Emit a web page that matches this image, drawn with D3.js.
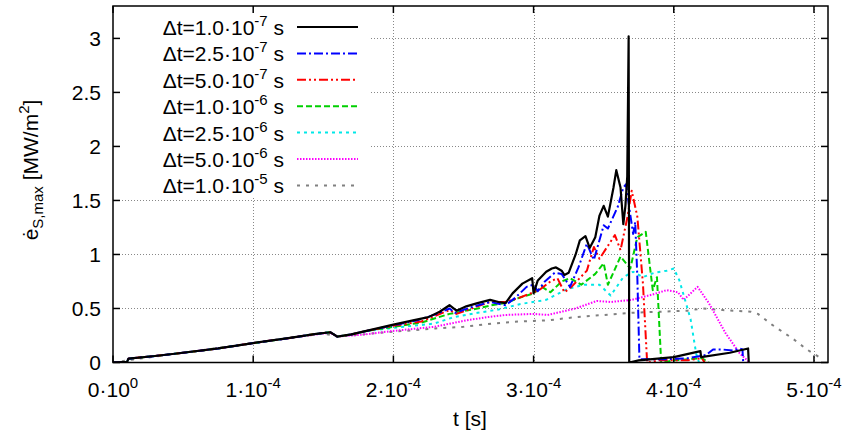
<!DOCTYPE html>
<html>
<head>
<meta charset="utf-8">
<script src="https://cdn.jsdelivr.net/npm/d3@7"></script>
<style>
  body { margin: 0; background: #fff; }
  svg { display: block; font-family: "Liberation Sans", Arial, sans-serif; }
</style>
</head>
<body>
<div id="chart"></div>
<script>
// time in units of 1e-4 s, heat flux in MW/m^2
const commonRise = [[0, 0], [0.1, 0.005], [0.11, 0.035], [0.3, 0.06], [0.5, 0.09], [0.75, 0.13], [1.0, 0.18],
  [1.25, 0.225], [1.45, 0.265], [1.55, 0.28], [1.6, 0.24], [1.7, 0.26], [1.8, 0.29]];

const dt1e7 = [[2.0, 0.35], [2.14, 0.39], [2.25, 0.42], [2.33, 0.47], [2.40, 0.53], [2.45, 0.48], [2.52, 0.52],
  [2.6, 0.55], [2.69, 0.58], [2.75, 0.56], [2.80, 0.55], [2.85, 0.64], [2.92, 0.73], [2.99, 0.78], [3.0, 0.64],
  [3.03, 0.76], [3.09, 0.84], [3.13, 0.87], [3.16, 0.88], [3.2, 0.85], [3.22, 0.81], [3.25, 0.83], [3.3, 1.0],
  [3.33, 1.13], [3.37, 1.17], [3.40, 1.06], [3.44, 1.16], [3.47, 1.36], [3.50, 1.45], [3.53, 1.35], [3.57, 1.62],
  [3.59, 1.78], [3.62, 1.62], [3.64, 1.28], [3.655, 1.45], [3.668, 1.72], [3.678, 3.02], [3.682, 0],
  [3.75, 0.02], [4.0, 0.05], [4.19, 0.105], [4.195, 0.05], [4.4, 0.09], [4.53, 0.13], [4.535, 0]];

const dt25e7 = [[2.0, 0.345], [2.17, 0.39], [2.31, 0.45], [2.40, 0.50], [2.44, 0.46], [2.55, 0.51], [2.69, 0.56],
  [2.8, 0.53], [2.87, 0.60], [2.95, 0.70], [3.0, 0.72], [3.03, 0.66], [3.08, 0.75], [3.15, 0.83], [3.2, 0.82],
  [3.26, 0.70], [3.32, 0.88], [3.38, 1.10], [3.43, 0.95], [3.50, 1.27], [3.53, 1.24], [3.60, 1.44], [3.64, 1.62],
  [3.66, 1.65], [3.685, 1.41], [3.71, 1.19], [3.725, 1.30], [3.74, 0.79], [3.755, 0.03], [3.95, 0.03],
  [4.1, 0.04], [4.23, 0.07], [4.28, 0.12], [4.35, 0.12], [4.42, 0.11], [4.47, 0.13], [4.49, 0.12], [4.495, 0]];

const dt5e7 = [[2.0, 0.34], [2.2, 0.38], [2.4, 0.485], [2.45, 0.45], [2.6, 0.52], [2.69, 0.56], [2.8, 0.56],
  [2.9, 0.60], [3.0, 0.65], [3.05, 0.68], [3.12, 0.75], [3.17, 0.78], [3.22, 0.65], [3.27, 0.70], [3.38, 0.85],
  [3.43, 1.07], [3.47, 0.96], [3.58, 1.18], [3.62, 1.04], [3.67, 1.35], [3.70, 1.59], [3.74, 1.35], [3.78, 0.73],
  [3.81, 0], [3.9, 0.02], [4.1, 0.02], [4.2, 0.04], [4.22, 0]];

const dt1e6 = [[2.0, 0.33], [2.2, 0.37], [2.4, 0.45], [2.6, 0.50], [2.7, 0.53], [2.8, 0.55], [2.9, 0.60],
  [3.0, 0.64], [3.06, 0.70], [3.12, 0.65], [3.2, 0.75], [3.26, 0.78], [3.34, 0.72], [3.44, 0.82], [3.5, 0.92],
  [3.53, 0.72], [3.62, 0.98], [3.69, 0.87], [3.74, 1.16], [3.80, 1.21], [3.85, 0.67], [3.88, 0.79], [3.91, 0],
  [4.0, 0.02], [4.2, 0.04], [4.25, 0]];

const dt25e6 = [[2.0, 0.32], [2.29, 0.36], [2.43, 0.42], [2.6, 0.46], [2.75, 0.49], [2.9, 0.54], [3.09, 0.58],
  [3.24, 0.68], [3.36, 0.72], [3.47, 0.72], [3.55, 0.62], [3.64, 0.79], [3.71, 0.84], [3.78, 0.79], [3.86, 0.83],
  [3.95, 0.85], [4.0, 0.87], [4.04, 0.76], [4.12, 0.40], [4.16, 0.08], [4.18, 0]];

const magentaRise = [[0, 0], [0.1, 0.005], [0.11, 0.035], [0.3, 0.06], [0.5, 0.09], [0.75, 0.13], [1.0, 0.18],
  [1.25, 0.225], [1.45, 0.26], [1.55, 0.275], [1.6, 0.24], [1.8, 0.26]];
const dt5e6 = [[1.98, 0.29], [2.29, 0.33], [2.52, 0.39], [2.67, 0.42], [2.8, 0.44], [3.0, 0.45], [3.1, 0.44],
  [3.3, 0.50], [3.45, 0.57], [3.55, 0.56], [3.7, 0.58], [3.85, 0.63], [3.95, 0.67], [4.03, 0.65], [4.07, 0.58],
  [4.17, 0.70], [4.25, 0.55], [4.37, 0.27], [4.47, 0.085], [4.54, 0]];

const dt1e5 = [[0, 0], [0.1, 0.02], [0.5, 0.09], [1.0, 0.18], [1.5, 0.27], [1.6, 0.24], [2.0, 0.285],
  [2.3, 0.315], [2.5, 0.33], [2.7, 0.36], [2.9, 0.38], [3.1, 0.39], [3.3, 0.42], [3.5, 0.44], [3.7, 0.46],
  [3.9, 0.47], [4.1, 0.48], [4.2, 0.50], [4.35, 0.485], [4.55, 0.47], [4.6, 0.45], [4.7, 0.35], [4.85, 0.22],
  [4.95, 0.12], [5.05, 0.04]];

const seriesNames = ["1.0·10|-7", "2.5·10|-7", "5.0·10|-7", "1.0·10|-6", "2.5·10|-6", "5.0·10|-6", "1.0·10|-5"];
const seriesData = [commonRise.concat(dt1e7), commonRise.concat(dt25e7), commonRise.concat(dt5e7),
  commonRise.concat(dt1e6), commonRise.concat(dt25e6), magentaRise.concat(dt5e6), dt1e5];

const xTicks = [0, 1, 2, 3, 4, 5];
const xTickExp = ["0", "-4", "-4", "-4", "-4", "-4"];
const yTicks = [0, 0.5, 1, 1.5, 2, 2.5, 3];

const styles = [
  { color: "#000000", dash: null, width: 2.2 },
  { color: "#0000ff", dash: "9,3,2,3", width: 2 },
  { color: "#ff0000", dash: "9,3,2,3,2,3", width: 2 },
  { color: "#00d000", dash: "6,3", width: 2 },
  { color: "#00e8e8", dash: "3,4", width: 2 },
  { color: "#ff00ff", dash: "1.5,1.5", width: 2 },
  { color: "#808080", dash: "3,6", width: 2 }
];

const W = 842, H = 435;
const plot = { left: 113, right: 828, top: 6, bottom: 362.5 };

const svg = d3.select("#chart").append("svg").attr("width", W).attr("height", H);

const x = d3.scaleLinear().domain([0, 5.1]).range([plot.left, plot.right]);
const y = d3.scaleLinear().domain([0, 3.3]).range([plot.bottom, plot.top]);
const px = v => Math.round(v) + 0.5;

// grid
const grid = svg.append("g").attr("stroke", "#888").attr("stroke-width", 1)
  .attr("stroke-dasharray", "1,2").attr("shape-rendering", "crispEdges");
grid.selectAll("line.gx").data(xTicks.slice(1)).enter().append("line")
  .attr("x1", d => px(x(d))).attr("x2", d => px(x(d))).attr("y1", plot.top).attr("y2", plot.bottom);
grid.selectAll("line.gy").data(yTicks.slice(1)).enter().append("line")
  .attr("x1", plot.left).attr("x2", plot.right).attr("y1", d => px(y(d))).attr("y2", d => px(y(d)));

// curves
svg.append("clipPath").attr("id", "clip").append("rect")
  .attr("x", plot.left).attr("y", plot.top)
  .attr("width", plot.right - plot.left).attr("height", plot.bottom - plot.top);

const line = d3.line().x(d => x(d[0])).y(d => y(d[1]));
const curves = svg.append("g").attr("clip-path", "url(#clip)");
// draw coarse steps first so the fine ones sit on top
for (let i = seriesData.length - 1; i >= 0; i--) {
  curves.append("path")
    .attr("d", line(seriesData[i]))
    .attr("fill", "none")
    .attr("stroke", styles[i].color)
    .attr("stroke-width", styles[i].width)
    .attr("stroke-dasharray", styles[i].dash)
    .attr("stroke-linejoin", "round");
}

// legend (opaque box)
const legend = svg.append("g");
legend.append("rect").attr("x", plot.left + 1).attr("y", plot.top + 1)
  .attr("width", 255).attr("height", 190).attr("fill", "#fff");
seriesNames.forEach((name, i) => {
  const ry = 27 + i * 26.4;
  const parts = name.split("|");
  const t = legend.append("text").attr("x", 284).attr("y", ry + 8)
    .attr("text-anchor", "end").attr("font-size", 21).attr("fill", "#000");
  t.append("tspan").text("Δt=" + parts[0]);
  t.append("tspan").attr("font-size", 15).attr("dy", -9).text(parts[1]);
  t.append("tspan").attr("dy", 9).text(" s");
  legend.append("line").attr("x1", 297).attr("x2", 358).attr("y1", ry).attr("y2", ry)
    .attr("stroke", styles[i].color).attr("stroke-width", styles[i].width)
    .attr("stroke-dasharray", styles[i].dash);
});

// frame
svg.append("rect").attr("x", plot.left).attr("y", plot.top)
  .attr("width", plot.right - plot.left).attr("height", plot.bottom - plot.top)
  .attr("fill", "none").attr("stroke", "#000").attr("stroke-width", 1.5);

// ticks, mirrored on all sides
const tickLen = 7;
const ticks = svg.append("g").attr("stroke", "#000").attr("stroke-width", 1.5);
xTicks.forEach(d => {
  ticks.append("line").attr("x1", x(d)).attr("x2", x(d)).attr("y1", plot.bottom).attr("y2", plot.bottom - tickLen);
  ticks.append("line").attr("x1", x(d)).attr("x2", x(d)).attr("y1", plot.top).attr("y2", plot.top + tickLen);
});
yTicks.forEach(d => {
  ticks.append("line").attr("x1", plot.left).attr("x2", plot.left + tickLen).attr("y1", y(d)).attr("y2", y(d));
  ticks.append("line").attr("x1", plot.right).attr("x2", plot.right - tickLen).attr("y1", y(d)).attr("y2", y(d));
});

// tick labels
yTicks.forEach(d => {
  svg.append("text").attr("x", plot.left - 12).attr("y", y(d) + 7.5)
    .attr("text-anchor", "end").attr("font-size", 21).text(d);
});
xTicks.forEach((d, i) => {
  const t = svg.append("text").attr("x", x(d)).attr("y", 397)
    .attr("text-anchor", "middle").attr("font-size", 21);
  t.append("tspan").text(d + "·10");
  t.append("tspan").attr("font-size", 15).attr("dy", -9).text(xTickExp[i]);
});

// axis titles
svg.append("text").attr("x", 470).attr("y", 426).attr("text-anchor", "middle")
  .attr("font-size", 21).text("t [s]");
const yl = svg.append("text").attr("transform", "translate(38,170) rotate(-90)")
  .attr("text-anchor", "middle").attr("font-size", 21);
yl.append("tspan").text("ė");
yl.append("tspan").attr("font-size", 15).attr("dy", 5).text("S,max");
yl.append("tspan").attr("dy", -5).text(" [MW/m");
yl.append("tspan").attr("font-size", 15).attr("dy", -9).text("2");
yl.append("tspan").attr("dy", 9).text("]");
</script>
</body>
</html>
